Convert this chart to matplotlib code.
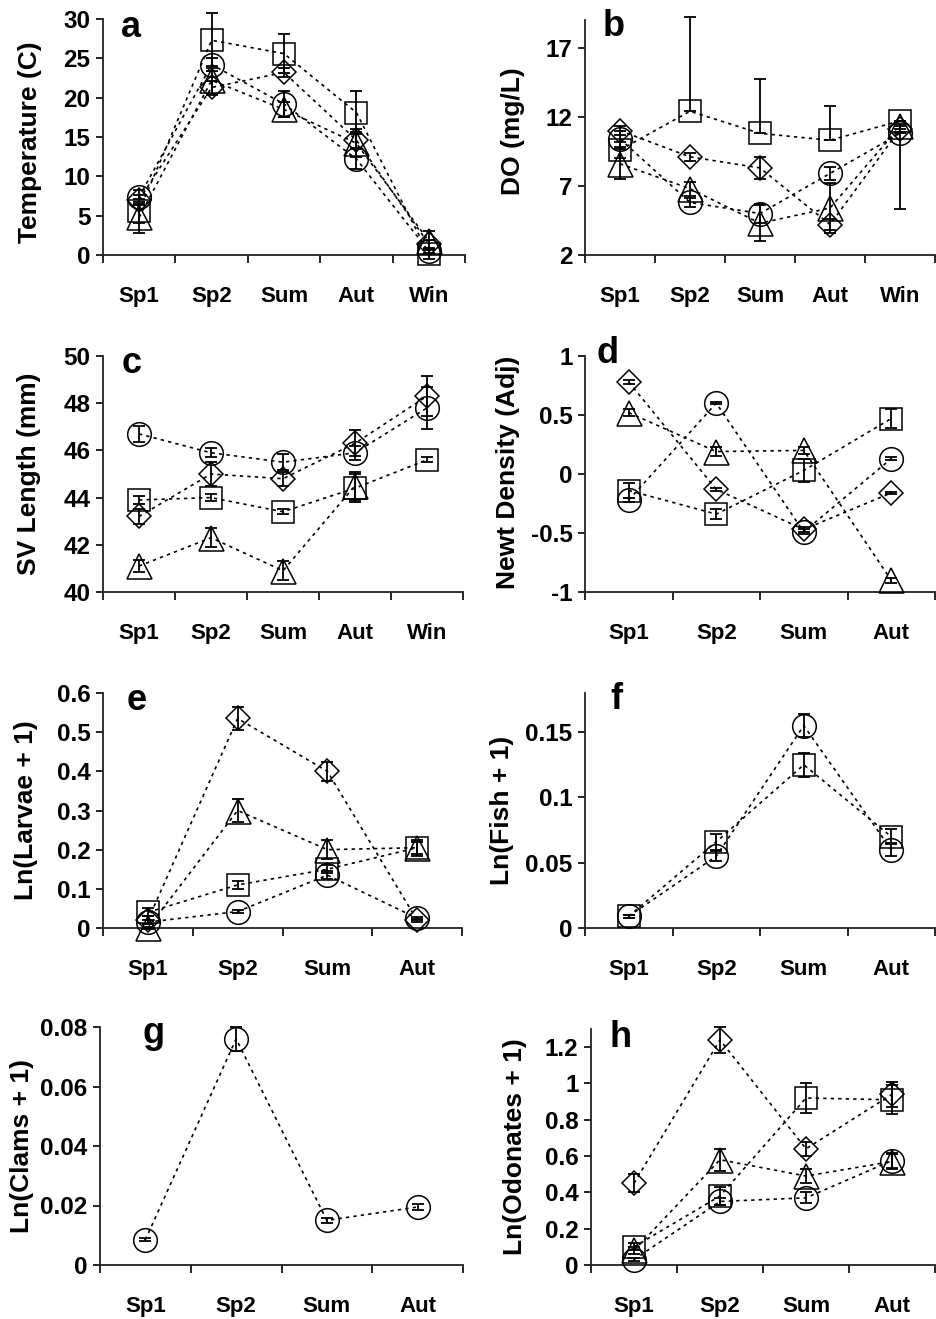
import numpy as np
import matplotlib
matplotlib.use("Agg")
import matplotlib.pyplot as plt

plt.rcParams["font.family"] = ["Liberation Sans", "DejaVu Sans"]
plt.rcParams["font.weight"] = "bold"

# ---- seasons ----
seasons5 = ["Sp1", "Sp2", "Sum", "Aut", "Win"]
seasons4 = ["Sp1", "Sp2", "Sum", "Aut"]

# ---- (a) water temperature, C ----
temp_sq = [5.6, 27.3, 25.6, 18.1, 0.1]
temp_sq_err = [1.5, 3.5, 2.5, 2.7, 0.6]
temp_ci = [7.4, 24.2, 19.2, 12.2, 0.5]
temp_ci_err = [0.9, 0.8, 1.6, 1.3, 0.3]
temp_di = [7.0, 21.3, 23.2, 14.6, 1.4]
temp_di_err = [0.6, 0.8, 0.6, 1.0, 0.5]
temp_tr = [4.8, 22.2, 18.5, 14.2, 1.8]
temp_tr_err = [2.0, 1.8, 1.0, 1.8, 1.2]

# ---- (b) dissolved oxygen, mg/L (lower, upper errors) ----
do_sq = [9.6, 12.4, 10.8, 10.3, 11.7]
do_sq_lo = [0.6, 0.0, 0.0, 0.0, 0.0]
do_sq_hi = [0.6, 6.8, 3.9, 2.5, 0.0]
do_ci = [10.4, 5.8, 5.0, 7.9, 10.8]
do_ci_lo = [0.6, 0.3, 0.7, 0.5, 5.5]
do_ci_hi = [0.6, 0.3, 0.7, 0.5, 0.0]
do_di = [11.0, 9.1, 8.3, 4.2, 11.1]
do_di_lo = [0.3, 0.3, 0.8, 0.4, 0.2]
do_di_hi = [0.3, 0.3, 0.8, 0.4, 0.2]
do_tr = [8.6, 6.8, 4.3, 5.4, 11.3]
do_tr_lo = [1.1, 0.5, 1.3, 1.8, 0.2]
do_tr_hi = [1.1, 0.5, 1.3, 1.8, 0.2]

# ---- (c) snout-vent length, mm ----
svl_sq = [43.9, 44.0, 43.4, 44.4, 45.6]
svl_sq_err = [0.15, 0.15, 0.1, 0.6, 0.1]
svl_ci = [46.7, 45.9, 45.5, 45.9, 47.8]
svl_ci_err = [0.35, 0.2, 0.35, 0.3, 0.9]
svl_di = [43.2, 45.0, 44.8, 46.3, 48.3]
svl_di_err = [0.3, 0.5, 0.3, 0.55, 0.85]
svl_tr = [41.1, 42.3, 40.9, 44.5, np.nan]
svl_tr_err = [0.25, 0.4, 0.4, 0.6, np.nan]

# ---- (d) adjusted newt density ----
nd_sq = [-0.14, -0.34, 0.03, 0.47]
nd_sq_err = [0.06, 0.04, 0.1, 0.08]
nd_ci = [-0.22, 0.60, -0.49, 0.13]
nd_ci_err = [0.02, 0.01, 0.02, 0.01]
nd_di = [0.78, -0.13, -0.47, -0.16]
nd_di_err = [0.02, 0.01, 0.02, 0.01]
nd_tr = [0.52, 0.19, 0.20, -0.90]
nd_tr_err = [0.03, 0.04, 0.03, 0.02]

# ---- (e) ln(larvae + 1) ----
lv_sq = [0.04, 0.11, 0.15, 0.205]
lv_sq_err = [0.01, 0.01, 0.01, 0.015]
lv_ci = [0.015, 0.042, 0.135, 0.025]
lv_ci_err = [0.005, 0.003, 0.01, 0.004]
lv_di = [0.02, 0.535, 0.40, 0.02]
lv_di_err = [0.01, 0.03, 0.025, 0.004]
lv_tr = [0.0, 0.30, 0.20, 0.205]
lv_tr_err = [0.003, 0.03, 0.025, 0.02]

# ---- (f) ln(fish + 1) ----
fi_sq = [0.009, 0.066, 0.125, 0.07]
fi_sq_err = [0.001, 0.006, 0.009, 0.006]
fi_ci = [0.009, 0.055, 0.155, 0.06]
fi_ci_err = [0.001, 0.004, 0.009, 0.005]

# ---- (g) ln(clams + 1) ----
cl_ci = [0.0085, 0.076, 0.015, 0.0195]
cl_ci_err = [0.0005, 0.004, 0.0008, 0.001]

# ---- (h) ln(odonates + 1) ----
od_sq = [0.10, 0.38, 0.92, 0.91]
od_sq_err = [0.02, 0.05, 0.08, 0.08]
od_ci = [0.03, 0.35, 0.37, 0.575]
od_ci_err = [0.01, 0.02, 0.03, 0.04]
od_di = [0.45, 1.24, 0.64, 0.94]
od_di_err = [0.05, 0.07, 0.04, 0.07]
od_tr = [0.08, 0.58, 0.49, 0.57]
od_tr_err = [0.02, 0.06, 0.04, 0.04]

W, H = 936, 1319
MARKERS = {"s": 16.5, "o": 17, "D": 12, "^": 18}

fig = plt.figure(figsize=(W / 100, H / 100), dpi=100)


def add_panel(left, right, top, bottom):
    return fig.add_axes([left / W, 1 - bottom / H, (right - left) / W, (bottom - top) / H])


def draw_series(ax, y, err, marker):
    x = np.arange(len(y))
    ax.plot(x, y, linestyle=(0, (2, 2.5)), color="black", lw=1.2,
            marker=marker, ms=MARKERS[marker], mfc="none", mec="black",
            mew=1.1, clip_on=False, zorder=3)
    eb = ax.errorbar(x, y, yerr=err, fmt="none", ecolor="black",
                     elinewidth=1.3, capsize=4.3, capthick=1.3, zorder=4)
    for art in list(eb.lines[1]) + list(eb.lines[2]):
        art.set_clip_on(False)


def style_axes(ax, cats, ylim, yticks):
    n = len(cats)
    ax.set_xlim(-0.5, n - 0.5)
    ax.set_ylim(*ylim)
    ax.set_yticks(yticks)
    ax.set_yticklabels(["%g" % t for t in yticks])
    ax.set_xticks(np.arange(n))
    ax.set_xticklabels(cats)
    ax.set_xticks(np.arange(n + 1) - 0.5, minor=True)
    ax.tick_params(axis="x", which="major", length=0, pad=22, labelsize=16)
    ax.tick_params(axis="x", which="minor", length=6, width=1.2, direction="out")
    ax.tick_params(axis="y", which="major", length=5, width=1.2, pad=4, labelsize=17.5)
    for side in ("top", "right"):
        ax.spines[side].set_visible(False)
    for side in ("left", "bottom"):
        ax.spines[side].set_linewidth(1.3)
        ax.spines[side].set_color("#222222")
    ax.patch.set_visible(False)


def ylabel(x, y, text):
    fig.text(x / W, 1 - y / H, text, rotation=90, ha="center", va="center",
             fontsize=19, fontweight="bold")


def letter(x, y, text):
    fig.text(x / W, 1 - y / H, text, ha="left", va="baseline",
             fontsize=26, fontweight="bold")


# (a) temperature
ax = add_panel(103, 465, 19, 255)
draw_series(ax, temp_sq, temp_sq_err, "s")
draw_series(ax, temp_ci, temp_ci_err, "o")
draw_series(ax, temp_di, temp_di_err, "D")
draw_series(ax, temp_tr, temp_tr_err, "^")
style_axes(ax, seasons5, (0, 30), [0, 5, 10, 15, 20, 25, 30])
ylabel(30, 142, "Temperature (C)")
letter(121, 37, "a")

# (b) dissolved oxygen
ax = add_panel(585, 935, 20, 255)
draw_series(ax, do_sq, [do_sq_lo, do_sq_hi], "s")
draw_series(ax, do_ci, [do_ci_lo, do_ci_hi], "o")
draw_series(ax, do_di, [do_di_lo, do_di_hi], "D")
draw_series(ax, do_tr, [do_tr_lo, do_tr_hi], "^")
style_axes(ax, seasons5, (2, 19), [2, 7, 12, 17])
ylabel(513, 131, "DO (mg/L)")
letter(603, 36, "b")

# (c) SV length
ax = add_panel(103, 463, 356, 592)
draw_series(ax, svl_sq, svl_sq_err, "s")
draw_series(ax, svl_ci, svl_ci_err, "o")
draw_series(ax, svl_di, svl_di_err, "D")
draw_series(ax, svl_tr, svl_tr_err, "^")
style_axes(ax, seasons5, (40, 50), [40, 42, 44, 46, 48, 50])
ylabel(29, 474, "SV Length (mm)")
letter(122, 373, "c")

# (d) newt density
ax = add_panel(585, 935, 356, 592)
draw_series(ax, nd_sq, nd_sq_err, "s")
draw_series(ax, nd_ci, nd_ci_err, "o")
draw_series(ax, nd_di, nd_di_err, "D")
draw_series(ax, nd_tr, nd_tr_err, "^")
style_axes(ax, seasons4, (-1, 1), [-1, -0.5, 0, 0.5, 1])
ylabel(508, 472, "Newt Density (Adj)")
letter(597, 363, "d")

# (e) larvae
ax = add_panel(103, 462, 693, 928)
draw_series(ax, lv_sq, lv_sq_err, "s")
draw_series(ax, lv_ci, lv_ci_err, "o")
draw_series(ax, lv_di, lv_di_err, "D")
draw_series(ax, lv_tr, lv_tr_err, "^")
style_axes(ax, seasons4, (0, 0.6), [0, 0.1, 0.2, 0.3, 0.4, 0.5, 0.6])
ylabel(26, 810, "Ln(Larvae + 1)")
letter(127, 710, "e")

# (f) fish
ax = add_panel(585, 935, 693, 928)
draw_series(ax, fi_sq, fi_sq_err, "s")
draw_series(ax, fi_ci, fi_ci_err, "o")
style_axes(ax, seasons4, (0, 0.18), [0, 0.05, 0.1, 0.15])
ylabel(502, 810, "Ln(Fish + 1)")
letter(610, 709, "f")

# (g) clams
ax = add_panel(100, 463, 1027, 1265)
draw_series(ax, cl_ci, cl_ci_err, "o")
style_axes(ax, seasons4, (0, 0.08), [0, 0.02, 0.04, 0.06, 0.08])
ylabel(22, 1146, "Ln(Clams + 1)")
letter(142, 1043, "g")

# (h) odonates
ax = add_panel(591, 935, 1029, 1265)
draw_series(ax, od_sq, od_sq_err, "s")
draw_series(ax, od_ci, od_ci_err, "o")
draw_series(ax, od_di, od_di_err, "D")
draw_series(ax, od_tr, od_tr_err, "^")
style_axes(ax, seasons4, (0, 1.3), [0, 0.2, 0.4, 0.6, 0.8, 1, 1.2])
ylabel(515, 1147, "Ln(Odonates + 1)")
letter(610, 1047, "h")

fig.savefig("out.png", dpi=100, facecolor="white")
